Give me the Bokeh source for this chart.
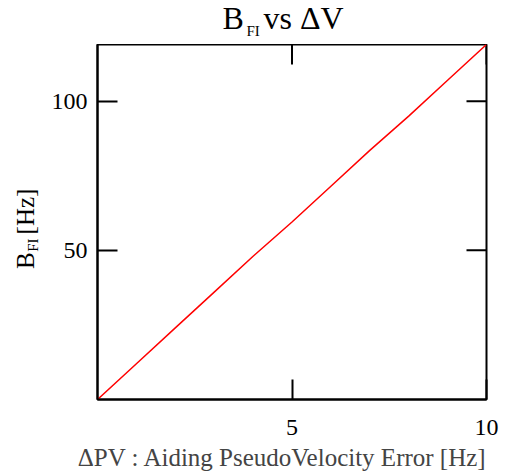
from bokeh.plotting import figure
from bokeh.models import LinearAxis, FixedTicker, Range1d
from bokeh.layouts import column, row
from bokeh.core.properties import value
from bokeh.embed import file_html
from bokeh.resources import INLINE
import math

# data
dv = [0, 1, 2, 3, 4, 5, 6, 7, 8, 9, 10]
bfi = [0, 12, 24, 36, 48, 59.5, 71.5, 83.5, 95, 107, 119]
x_ticks = [5, 10]
y_ticks = [50, 100]

FONT = "Liberation Serif"
W, H = 510, 474
TOP = 44            # title strip height
LW = 45             # y-label strip width
L = 97              # frame left (page px)
FR, FB = 486, 399   # frame right / bottom (page px)
X0, X1, Y0, Y1 = 0, 10, 0, 119

def blank(w, h):
    f = figure(width=w, height=h, output_backend="svg", toolbar_location=None,
               x_range=Range1d(0, w), y_range=Range1d(0, h),
               min_border=0, x_axis_location=None, y_axis_location=None)
    f.xgrid.visible = False
    f.ygrid.visible = False
    f.outline_line_color = None
    f.background_fill_color = "white"
    f.border_fill_color = "white"
    return f

# main plot
p = figure(width=W - LW, height=H - TOP, output_backend="svg", toolbar_location=None,
           x_range=Range1d(X0, X1), y_range=Range1d(Y0, Y1),
           min_border_left=L - LW, min_border_right=W - FR, min_border_top=0,
           min_border_bottom=H - FB,
           x_axis_location=None, y_axis_location=None)
p.xgrid.visible = False
p.ygrid.visible = False
p.outline_line_color = "black"
p.outline_line_width = 2
p.background_fill_color = "white"
p.border_fill_color = "white"

def style(ax):
    ax.axis_line_color = "black"
    ax.axis_line_width = 2
    ax.major_tick_in = 20
    ax.major_tick_out = 0
    ax.major_tick_line_width = 2
    ax.minor_tick_line_color = None
    ax.major_label_text_font = FONT
    ax.major_label_text_font_size = "24px"
    ax.major_label_text_color = "black"

xb = LinearAxis(ticker=FixedTicker(ticks=x_ticks))
style(xb)
xb.major_label_standoff = 20
# trailing no-break spaces nudge the centred label to the left, as in the reference
xb.axis_label = "\u0394PV : Aiding PseudoVelocity Error [Hz]" + "\u00a0" * 3
xb.axis_label_text_font = FONT
xb.axis_label_text_font_size = "25px"
xb.axis_label_text_font_style = "normal"
xb.axis_label_standoff = 6
p.add_layout(xb, "below")

yl = LinearAxis(ticker=FixedTicker(ticks=y_ticks))
style(yl)
yl.major_label_standoff = 10
p.add_layout(yl, "left")

# mirrored ticks on the top and right edges (half of each dash is clipped by the frame)
p.scatter(x=x_ticks, y=[Y1] * len(x_ticks), marker="dash", size=40, angle=math.pi / 2,
          line_color="black", line_width=2)
p.scatter(x=[X1] * len(y_ticks), y=y_ticks, marker="dash", size=40,
          line_color="black", line_width=2)

p.line(dv, bfi, line_color="red", line_width=1.5)

def ttxt(f, h, ox, oy, text, px, py, size, angle=0.0):
    f.text(x=[px - ox], y=[h - (py - oy)], text=[text], text_font=value(FONT),
           text_font_size=size, text_baseline="alphabetic", text_align="left",
           angle=angle, text_color="black")

# title strip
t = blank(W, TOP)
ttxt(t, TOP, 0, 0, "B", 222, 17, "32px")
ttxt(t, TOP, 0, 0, "FI", 246, 30, "15px")
ttxt(t, TOP, 0, 0, "vs \u0394V", 263, 17, "32px")

# y-label strip
yls = blank(LW, H - TOP)
ttxt(yls, H - TOP, 0, TOP, "B", 25, 316, "25px", math.pi / 2)
ttxt(yls, H - TOP, 0, TOP, "FI", 32, 295, "15px", math.pi / 2)
ttxt(yls, H - TOP, 0, TOP, "[Hz]", 25, 274, "25px", math.pi / 2)

layout = column(t, row(yls, p, spacing=0), spacing=0)
open("out.html", "w").write(file_html(layout, INLINE))
